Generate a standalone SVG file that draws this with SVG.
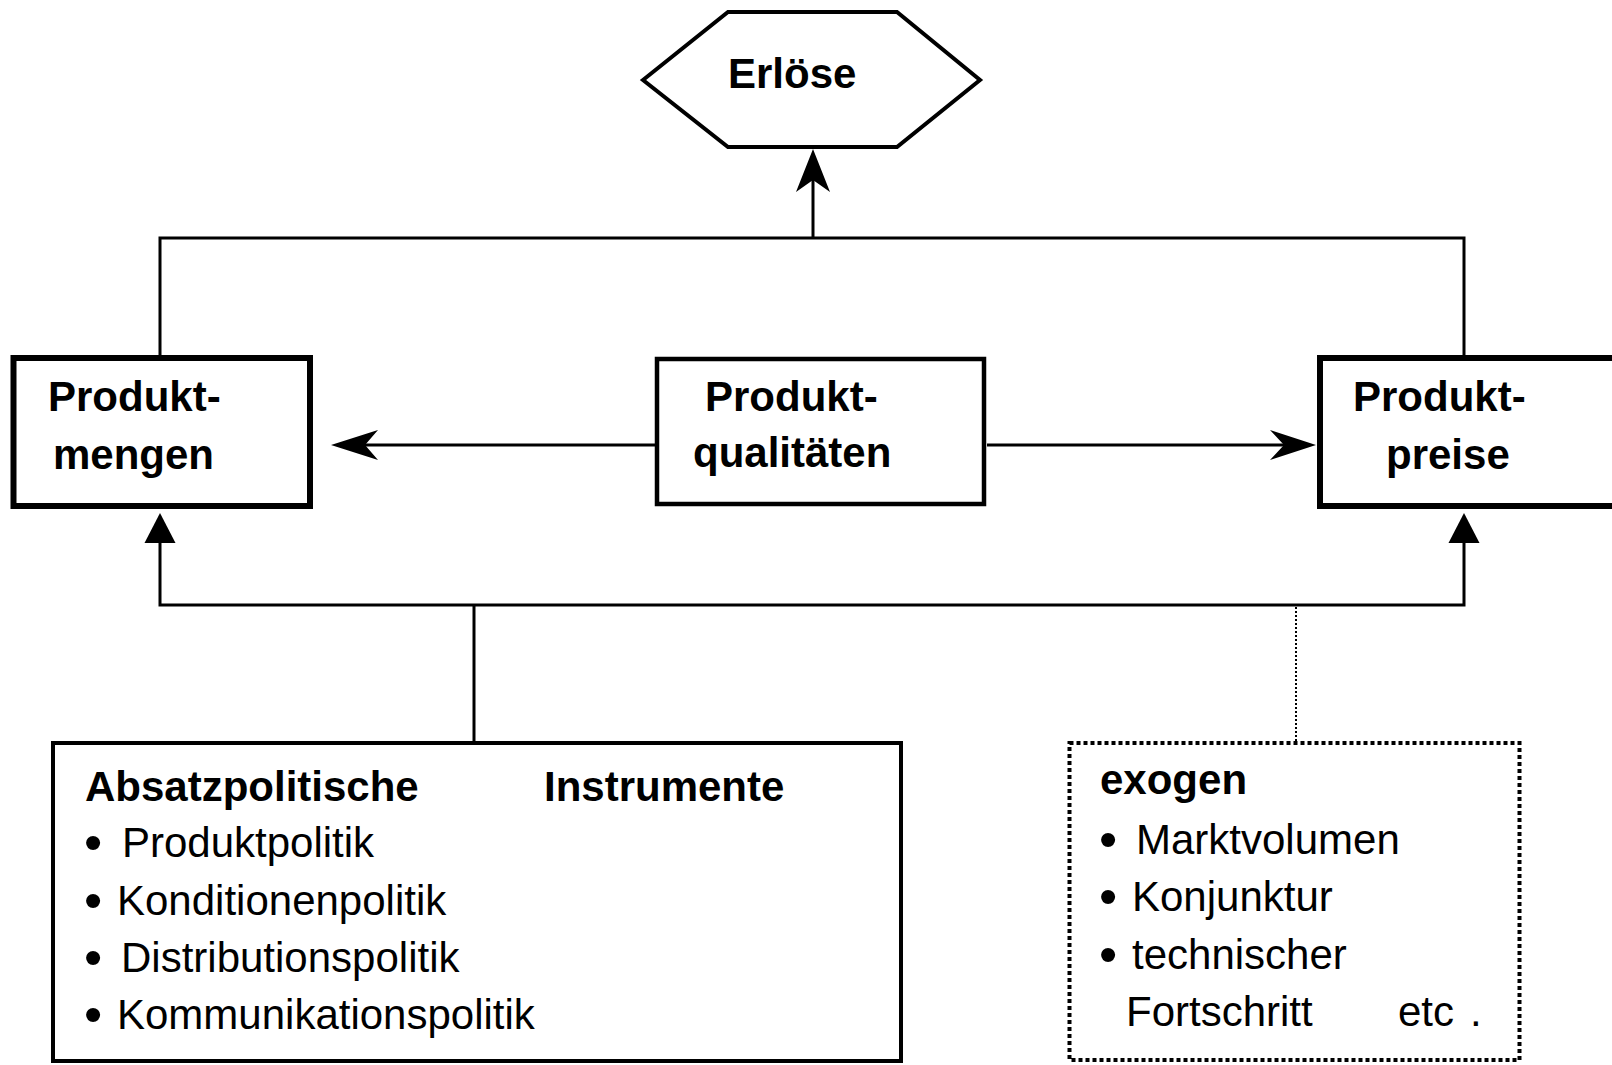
<svg xmlns="http://www.w3.org/2000/svg" width="1612" height="1065" viewBox="0 0 1612 1065">
<style>
text{font-family:"Liberation Sans",Arial,sans-serif;font-size:42px;fill:#000}
.b{font-weight:bold}
.bul{font-size:52px}
.ln{stroke:#000;stroke-width:3;fill:none}
.box{fill:#fff;stroke:#000}
</style>
<rect width="1612" height="1065" fill="#fff"/>
<g id="connectors">
<polyline class="ln" points="160,355 160,238 1464,238 1464,355"/>
<line class="ln" x1="813" y1="238" x2="813" y2="180" stroke-width="4"/>
<path d="M813,149 L830,192 L813,180 L796,192 Z" fill="#000"/>
<line class="ln" x1="655" y1="445" x2="360" y2="445"/>
<path d="M331,445 L378,430 L365,445 L378,460 Z" fill="#000"/>
<line class="ln" x1="987" y1="445" x2="1290" y2="445"/>
<path d="M1316,445 L1270,430 L1284,445 L1270,460 Z" fill="#000"/>
<polyline class="ln" points="160,543 160,605 1464,605 1464,543"/>
<path d="M160,513 L175.5,543 L144.5,543 Z" fill="#000"/>
<path d="M1464,513 L1479.5,543 L1448.5,543 Z" fill="#000"/>
<line class="ln" x1="474" y1="605" x2="474" y2="743"/>
<line x1="1296" y1="607" x2="1296" y2="742" stroke="#000" stroke-width="2" stroke-dasharray="2 2"/>
</g>
<g id="erloese">
<polygon class="box" stroke-width="4" points="643,80 728,12 897,12 980,80 897,147 728,147"/>
<text class="b" x="728" y="88">Erlöse</text>
</g>
<g id="produktmengen">
<rect class="box" stroke-width="6" x="13.5" y="358" width="296.5" height="148"/>
<text class="b" x="48" y="411">Produkt-</text>
<text class="b" x="53" y="469">mengen</text>
</g>
<g id="produktqualitaeten">
<rect class="box" stroke-width="4.5" x="657" y="359" width="327" height="145"/>
<text class="b" x="705" y="411">Produkt-</text>
<text class="b" x="693" y="467">qualitäten</text>
</g>
<g id="produktpreise">
<rect class="box" stroke-width="6" x="1320" y="358" width="400" height="148"/>
<text class="b" x="1353" y="411">Produkt-</text>
<text class="b" x="1386" y="469">preise</text>
</g>
<g id="instrumente">
<rect class="box" stroke-width="4" x="53" y="743" width="848" height="318"/>
<text class="b" x="85" y="801">Absatzpolitische</text>
<text class="b" x="544" y="801">Instrumente</text>
<text class="bul" x="84" y="860">•</text><text x="122" y="857">Produktpolitik</text>
<text class="bul" x="84" y="918">•</text><text x="117" y="915">Konditionenpolitik</text>
<text class="bul" x="84" y="975">•</text><text x="121" y="972">Distributionspolitik</text>
<text class="bul" x="84" y="1032">•</text><text x="117" y="1029">Kommunikationspolitik</text>
</g>
<g id="exogen">
<rect fill="#fff" stroke="#000" stroke-width="4" stroke-dasharray="4 3" x="1069.5" y="743" width="450" height="317"/>
<text class="b" x="1100" y="794">exogen</text>
<text class="bul" x="1099" y="857">•</text><text x="1136" y="854">Marktvolumen</text>
<text class="bul" x="1099" y="914">•</text><text x="1132" y="911">Konjunktur</text>
<text class="bul" x="1099" y="972">•</text><text x="1132" y="969">technischer</text>
<text x="1126" y="1026">Fortschritt</text>
<text x="1398" y="1026">etc</text>
<text x="1470" y="1026">.</text>
</g>
</svg>
